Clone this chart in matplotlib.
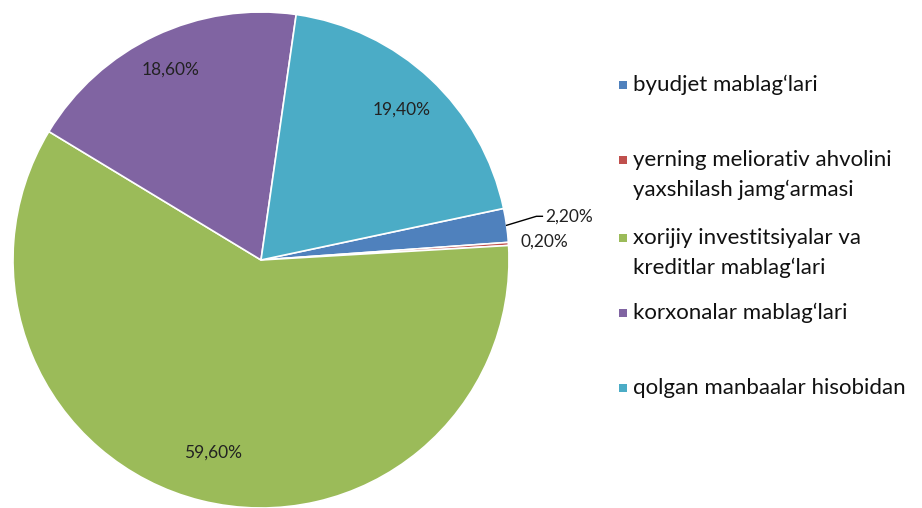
import numpy as np
import matplotlib
matplotlib.use("Agg")
import matplotlib.pyplot as plt
from matplotlib.patches import Rectangle

categories = ["byudjet mablag\u2018lari",
              "yerning meliorativ ahvolini\nyaxshilash jamg\u2018armasi",
              "xorijiy investitsiyalar va\nkreditlar mablag\u2018lari",
              "korxonalar mablag\u2018lari",
              "qolgan manbaalar hisobidan"]
values = [2.2, 0.2, 59.6, 18.6, 19.4]
pct_labels = ["2,20%", "0,20%", "59,60%", "18,60%", "19,40%"]
colors = ["#4F81BD", "#C0504D", "#9BBB59", "#8064A2", "#4BACC6"]

plt.rcParams['font.family'] = ['Lato', 'DejaVu Sans']

W, H = 922, 508
fig = plt.figure(figsize=(W / 100, H / 100), dpi=100)
ax = fig.add_axes([0, 0, 1, 1])

cx, cy, R = 261, 248, 248
wedges, _ = ax.pie(values, colors=colors, startangle=12, counterclock=False,
                   center=(cx, cy), radius=R, frame=True,
                   wedgeprops=dict(edgecolor='white', linewidth=1.2))
ax.set_xlim(0, W)
ax.set_ylim(0, H)
ax.set_aspect('equal')
ax.axis('off')

dists = [1.26, 1.15, 0.80, 0.85, 0.83]
for w, lab, d in zip(wedges, pct_labels, dists):
    th = np.deg2rad((w.theta1 + w.theta2) / 2)
    x = cx + R * d * np.cos(th)
    y = cy + R * d * np.sin(th)
    if d > 1:
        ax.text(x - 25, y, lab, ha='left', va='center', fontsize=12.5, color='#222222')
    else:
        ax.text(x, y, lab, ha='center', va='center', fontsize=12.5, color='#222222')

# leader line for the first small slice
w0 = wedges[0]
th0 = np.deg2rad((w0.theta1 + w0.theta2) / 2)
x0, y0 = cx + R * np.cos(th0), cy + R * np.sin(th0)
xt = cx + R * dists[0] * np.cos(th0) - 28
yt = cy + R * dists[0] * np.sin(th0)
ax.plot([x0, xt - 6, xt], [y0, yt, yt], color='black', lw=1)

# legend
leg_y = [423, 348, 270, 195, 120]
line_h = 30
for lab, col, y in zip(categories, colors, leg_y):
    ax.add_patch(Rectangle((619, y - 4), 8, 8, facecolor=col, edgecolor='none'))
    for i, line in enumerate(lab.split("\n")):
        ax.text(633, y - 6 - i * line_h, line, ha='left', va='baseline',
                fontsize=16, color='#111111')

fig.savefig("out.png", dpi=100)
